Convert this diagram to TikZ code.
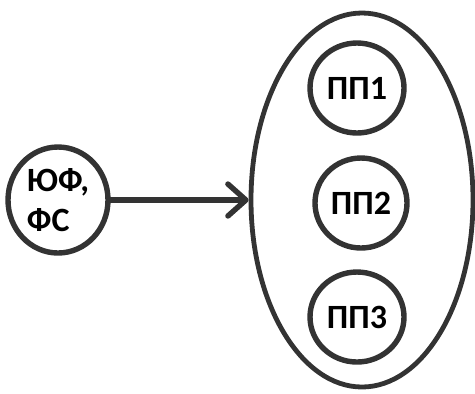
\documentclass[tikz,border=0pt]{standalone}
\usepackage{fontspec}
\setmainfont{Carlito}
\usetikzlibrary{arrows.meta,shapes.geometric}
\colorlet{ink}{black!80}

\begin{document}
\begin{tikzpicture}[x=0.5pt,y=-0.5pt,>=Stealth,
    oval/.style={draw=ink,line width=2.4pt,ellipse,inner sep=0pt},
    unit/.style={oval,line width=2.7pt,font=\bfseries\fontsize{17}{20}\selectfont},
    flow/.style={draw=ink,line width=2.7pt,line cap=round,-{Straight Barb[length=9pt,width=16pt,round]}}]
  \useasboundingbox (0,0) rectangle (475,393);
  % outer group
  \node[oval,minimum width=111pt,minimum height=187pt] (group) at (362,200) {};
  \node[unit,minimum width=47pt,minimum height=45pt] (pp1) at (357,88) {ПП1};
  \node[unit,minimum width=46pt,minimum height=45pt] (pp2) at (361,203) {ПП2};
  \node[unit,minimum width=47pt,minimum height=45pt] (pp3) at (357,317) {ПП3};
  % source
  \node[unit,minimum width=50pt,minimum height=53pt,align=left] (src) at (58,200) {ЮФ,\\ФС};
  \draw[flow] (src) -- (group);
\end{tikzpicture}
\end{document}
